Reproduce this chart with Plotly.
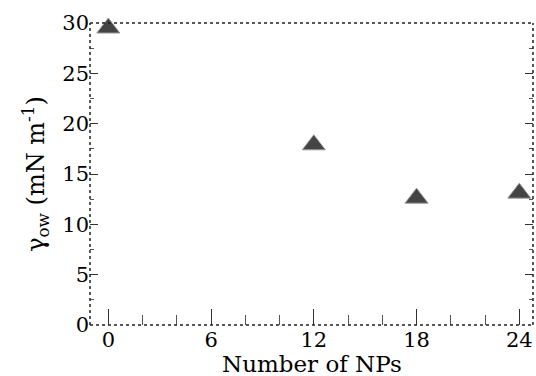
import plotly.graph_objects as go

num_nps = [0, 12, 18, 24]
gamma_ow = [29.5, 17.9, 12.6, 13.1]
x_ticks = [0, 6, 12, 18, 24]
y_ticks = [0, 5, 10, 15, 20, 25, 30]

FONT = "DejaVu Serif"

fig = go.Figure()
fig.add_trace(go.Scatter(
    x=num_nps, y=gamma_ow, mode="markers", cliponaxis=False,
    marker=dict(symbol="triangle-up", size=20, color="#444444",
                line=dict(color="#999999", width=1)),
    showlegend=False,
))

fig.update_layout(
    width=536, height=376,
    margin=dict(l=90, r=3, t=23, b=51),
    plot_bgcolor="white", paper_bgcolor="white",
    font=dict(family=FONT, size=20, color="black"),
    xaxis=dict(
        range=[-1.07, 24.8], tickvals=x_ticks, ticks="inside", ticklen=16,
        tickcolor="#333", tickwidth=1, showgrid=False, zeroline=False,
        showline=False,
        minor=dict(dtick=2, tick0=0, ticks="inside", ticklen=10, tickcolor="#555", showgrid=False),
        tickfont=dict(size=21, family=FONT),
    ),
    yaxis=dict(
        range=[0, 30], tickvals=y_ticks, ticks="inside", ticklen=8,
        tickcolor="#333", tickwidth=1, showgrid=False, zeroline=False,
        showline=False, mirror="ticks",
        minor=dict(dtick=2.5, tick0=0, ticks="inside", ticklen=4, tickcolor="#555", showgrid=False),
        title=dict(text="γ<sub>ow</sub> (mN m<sup>-1</sup>)", font=dict(size=24, family=FONT), standoff=10),
        tickfont=dict(size=21, family=FONT),
    ),
)

fig.add_annotation(text="Number of NPs", xref="paper", yref="paper", x=0.5, y=-51/302,
                   xanchor="center", yanchor="bottom", yshift=-3, showarrow=False,
                   font=dict(size=23, family=FONT))

# dotted frame
for (x0, y0, x1, y1) in [(0, 0, 1, 0), (0, 1, 1, 1), (0, 0, 0, 1), (1, 0, 1, 1)]:
    fig.add_shape(type="line", xref="paper", yref="paper", x0=x0, y0=y0, x1=x1, y1=y1,
                  line=dict(color="#222", width=1.5, dash="dot"), layer="above")

fig.write_html("out.html")
